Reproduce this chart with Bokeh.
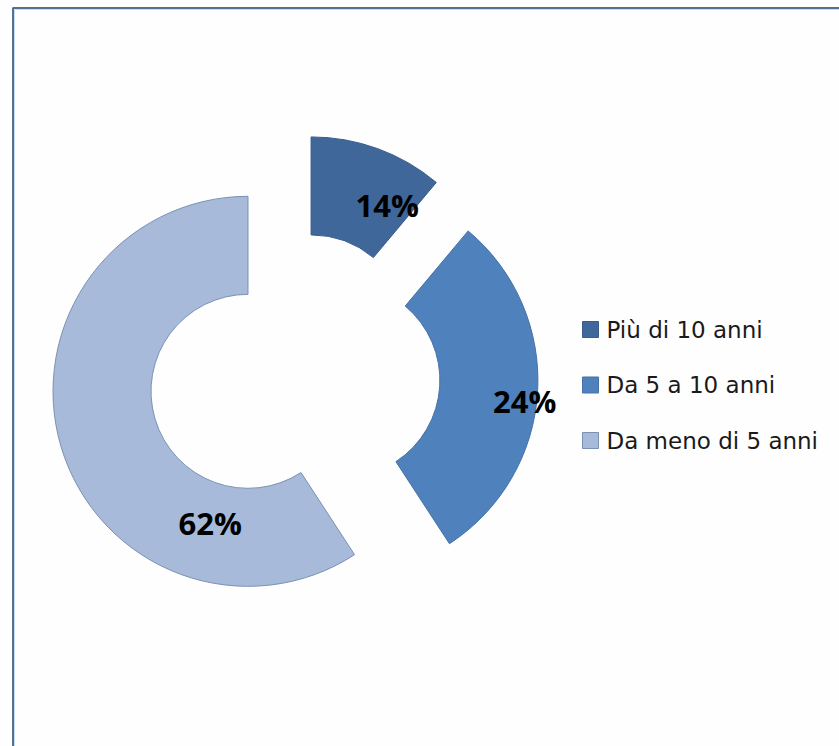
import numpy as np
from bokeh.plotting import figure
from bokeh.models import Range1d, ColumnDataSource
from bokeh.core.properties import value
from bokeh.embed import file_html
from bokeh.resources import INLINE

# ---- data ----
categories = ["Più di 10 anni", "Da 5 a 10 anni", "Da meno di 5 anni"]
label_texts = ["14%", "24%", "62%"]
# angular share of each slice as drawn in the reference ring
shares = [11.1, 29.7, 59.2]

# ---- style ----
fill_colors = ["#40679A", "#4F81BD", "#A8BAD9"]
edge_colors = ["#385C8A", "#4572A8", "#7B90B5"]

W, H = 839, 746
cx0, cy0 = 294.0, H - 377.0      # ring centre (data = pixels)
R_out, R_in = 195.0, 97.0
explode = 48.5
# label placement relative to each slice centre: (angle deg, radius)
label_place = [(59.0, 148.0), (-6.6, 183.0), (254.0, 137.0)]

p = figure(width=W, height=H, x_range=Range1d(0, W), y_range=Range1d(0, H),
           output_backend="svg", toolbar_location=None,
           x_axis_type=None, y_axis_type=None, min_border=0)
p.outline_line_color = None
p.background_fill_color = "#FEFEFE"
p.border_fill_color = "#FFFFFF"

# chart frame (extends beyond the visible area to the right / bottom)
p.line([12.5, 12.5, W], [0, H - 7.5, H - 7.5], line_color="#56708F", line_width=2)
p.line([14, 14, W], [0, H - 9, H - 9], line_color="#C5DCF0", line_width=1)

frac = np.array(shares) / np.sum(shares)
cum = np.concatenate([[0], np.cumsum(frac)])
start_deg = 90 - 360 * cum[:-1]
end_deg = 90 - 360 * cum[1:]
mid = np.radians((start_deg + end_deg) / 2)
xs = cx0 + explode * np.cos(mid)
ys = cy0 + explode * np.sin(mid)

src = ColumnDataSource(dict(x=xs, y=ys, s=np.radians(end_deg), e=np.radians(start_deg),
                            fill=fill_colors, edge=edge_colors))
p.annular_wedge(x="x", y="y", inner_radius=R_in, outer_radius=R_out,
                start_angle="s", end_angle="e", direction="anticlock",
                fill_color="fill", line_color="edge", line_width=1, source=src)

lx = [xs[i] + rad * np.cos(np.radians(a)) for i, (a, rad) in enumerate(label_place)]
ly = [ys[i] + rad * np.sin(np.radians(a)) for i, (a, rad) in enumerate(label_place)]
p.text(x=lx, y=ly, text=label_texts, text_font=value("Open Sans"), text_font_style="bold",
       text_font_size="31px", text_align="center", text_baseline="middle",
       text_color="#000000")

# legend
leg_x, leg_y0, leg_dy = 590.0, H - 329.0, 55.5
leg_y = [leg_y0 - i * leg_dy for i in range(len(categories))]
p.scatter(x=[leg_x] * len(categories), y=leg_y, marker="square", size=16,
          fill_color=fill_colors, line_color=edge_colors, line_width=1)
p.text(x=[leg_x + 16] * len(categories), y=leg_y, text=categories,
       text_font=value("DejaVu Sans"), text_font_size="23px", text_align="left",
       text_baseline="middle", text_color="#1A1A1A")

open("out.html", "w").write(file_html(p, INLINE))
